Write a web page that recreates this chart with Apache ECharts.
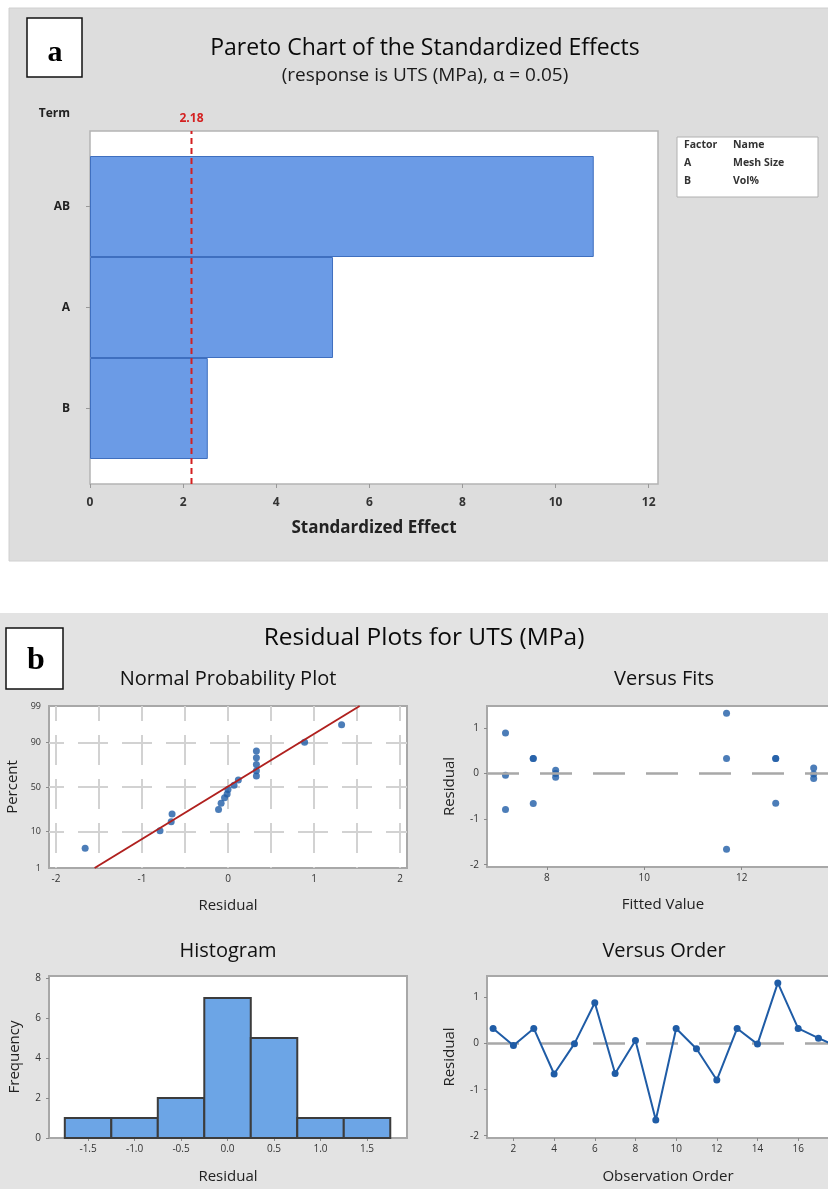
<!DOCTYPE html>
<html>
<head>
<meta charset="utf-8">
<script src="https://cdn.jsdelivr.net/npm/echarts@6/dist/echarts.min.js"></script>
<style>
html,body{margin:0;padding:0;background:#fff;}
#chart{width:828px;height:1189px;}
</style>
</head>
<body>
<div id="chart"></div>
<script>
// ---------- DATA ----------
// (a) Pareto chart
const paretoTerms = ['AB', 'A', 'B'];
const paretoEffects = [10.82, 5.22, 2.53];
const paretoCritical = 2.18;
const paretoTicks = [0, 2, 4, 6, 8, 10, 12];
const factorCodes = ['A', 'B'];
const factorNames = ['Mesh Size', 'Vol%'];

// (b) Residual plots
// normal probability plot: sorted residuals and their plotting percents
const npResiduals = [-1.66, -0.79, -0.66, -0.65, -0.11, -0.08, -0.04, -0.01, 0.00, 0.07, 0.12, 0.33, 0.33, 0.33, 0.33, 0.33, 0.89, 1.32];
const npPercents = [3.9, 10.5, 16, 22, 26, 32, 38, 42, 47, 52, 58, 62.5, 68, 74, 80, 85, 90.1, 96.3];
const npFitResidual = [-1.55, 1.53];
const npFitPercent = [1, 99];
const npPercentTicks = [1, 10, 50, 90, 99];
const npPercentGrid = [10, 50, 90];
const npResidualTicks = [-2, -1, 0, 1, 2];
const npResidualGrid = [-2, -1.5, -1, -0.5, 0, 0.5, 1, 1.5, 2];

// versus fits
const fitsFitted = [7.15, 7.15, 7.15, 7.72, 7.72, 7.72, 8.18, 8.18, 8.18, 11.69, 11.69, 11.69, 12.70, 12.70, 12.70, 13.48, 13.48, 13.48];
const fitsResidual = [0.89, -0.04, -0.79, 0.33, 0.33, -0.66, 0.07, 0.00, -0.08, 1.32, 0.33, -1.66, 0.33, 0.33, -0.65, 0.12, -0.01, -0.11];
const fitsTicks = [8, 10, 12, 14];
const residualTicks = [-2, -1, 0, 1];

// histogram
const histBinCenters = [-1.5, -1.0, -0.5, 0.0, 0.5, 1.0, 1.5];
const histCounts = [1, 1, 2, 7, 5, 1, 1];
const histBinWidth = 0.5;
const histFreqTicks = [0, 2, 4, 6, 8];

// versus order
const orderObs = [1, 2, 3, 4, 5, 6, 7, 8, 9, 10, 11, 12, 13, 14, 15, 16, 17, 18];
const orderResidual = [0.33, -0.04, 0.33, -0.66, 0.00, 0.89, -0.65, 0.07, -1.66, 0.33, -0.11, -0.79, 0.33, -0.01, 1.32, 0.33, 0.12, -0.08];
const orderTicks = [2, 4, 6, 8, 10, 12, 14, 16, 18];

// ---------- helpers ----------
function probit(p) {
  const a = [-3.969683028665376e+01, 2.209460984245205e+02, -2.759285104469687e+02, 1.383577518672690e+02, -3.066479806614716e+01, 2.506628277459239e+00];
  const b = [-5.447609879822406e+01, 1.615858368580409e+02, -1.556989798598866e+02, 6.680131188771972e+01, -1.328068155288572e+01];
  const c = [-7.784894002430293e-03, -3.223964580411365e-01, -2.400758277161838e+00, -2.549732539343734e+00, 4.374664141464968e+00, 2.938163982698783e+00];
  const d = [7.784695709041462e-03, 3.224671290700398e-01, 2.445134137142996e+00, 3.754408661907416e+00];
  const pl = 0.02425, ph = 1 - pl;
  let q, r;
  if (p < pl) {
    q = Math.sqrt(-2 * Math.log(p));
    return (((((c[0]*q+c[1])*q+c[2])*q+c[3])*q+c[4])*q+c[5]) / ((((d[0]*q+d[1])*q+d[2])*q+d[3])*q+1);
  }
  if (p <= ph) {
    q = p - 0.5; r = q * q;
    return (((((a[0]*r+a[1])*r+a[2])*r+a[3])*r+a[4])*r+a[5])*q / (((((b[0]*r+b[1])*r+b[2])*r+b[3])*r+b[4])*r+1);
  }
  q = Math.sqrt(-2 * Math.log(1 - p));
  return -(((((c[0]*q+c[1])*q+c[2])*q+c[3])*q+c[4])*q+c[5]) / ((((d[0]*q+d[1])*q+d[2])*q+d[3])*q+1);
}
const pz = pct => probit(pct / 100);
const npTickZ = npPercentTicks.map(pz);
const npGridZ = npPercentGrid.map(pz);

const FONT = 'Open Sans';
const TICKFONT = 'Open Sans';
const BLUE = '#1f5ca6';
const FRAME = '#a8a8a8';

function frameGrid(left, top, width, height) {
  return { left, top, width, height, show: true, backgroundColor: '#ffffff', borderColor: FRAME, borderWidth: 2,
    containLabel: false, outerBoundsMode: 'none' };
}
function valAxis(o) {
  return Object.assign({
    type: 'value',
    axisLine: { show: false, onZero: false },
    axisTick: { show: true, length: 3, lineStyle: { color: '#8a8a8a' } },
    splitLine: { show: false },
    axisLabel: { color: '#333', fontFamily: TICKFONT, fontSize: 10, margin: 6 },
    nameLocation: 'middle',
    nameTextStyle: { color: '#222', fontFamily: FONT, fontSize: 15 }
  }, o);
}

const chart = echarts.init(document.getElementById('chart'), null, { renderer: 'canvas' });

const option = {
  backgroundColor: '#ffffff',
  animation: false,
  title: [
    { text: 'Pareto Chart of the Standardized Effects', left: 420, top: 32, textAlign: 'center',
      textStyle: { fontFamily: FONT, fontSize: 23, fontWeight: 'normal', color: '#0a0a0a' },
      subtext: '(response is UTS (MPa), α = 0.05)', itemGap: 6,
      subtextStyle: { fontFamily: FONT, fontSize: 19, color: '#1a1a1a' } },
    { text: 'Residual Plots for UTS (MPa)', left: 419, top: 621, textAlign: 'center',
      textStyle: { fontFamily: FONT, fontSize: 24.5, fontWeight: 'normal', color: '#0a0a0a' } },
    { text: 'Normal Probability Plot', left: 223, top: 664, textAlign: 'center',
      textStyle: { fontFamily: FONT, fontSize: 20, fontWeight: 'normal', color: '#111' } },
    { text: 'Versus Fits', left: 659, top: 664, textAlign: 'center',
      textStyle: { fontFamily: FONT, fontSize: 20, fontWeight: 'normal', color: '#111' } },
    { text: 'Histogram', left: 223, top: 936, textAlign: 'center',
      textStyle: { fontFamily: FONT, fontSize: 20, fontWeight: 'normal', color: '#111' } },
    { text: 'Versus Order', left: 659, top: 936, textAlign: 'center',
      textStyle: { fontFamily: FONT, fontSize: 20, fontWeight: 'normal', color: '#111' } }
  ],
  graphic: [
    { type: 'rect', z: -10, silent: true, shape: { x: 9, y: 8, width: 830, height: 553 }, style: { fill: '#dddddd', stroke: '#d0d0d0', lineWidth: 1 } },
    { type: 'rect', z: -10, silent: true, shape: { x: 0, y: 613, width: 840, height: 590 }, style: { fill: '#e3e3e3' } },
    { type: 'rect', z: 5, silent: true, shape: { x: 27, y: 18, width: 55, height: 59 }, style: { fill: '#fff', stroke: '#111', lineWidth: 1.5 } },
    { type: 'text', z: 6, silent: true, x: 55, y: 53, style: { text: 'a', fontFamily: 'Liberation Serif', fontWeight: 'bold', fontSize: 30, fill: '#000', textAlign: 'center', textVerticalAlign: 'middle' } },
    { type: 'rect', z: 5, silent: true, shape: { x: 6, y: 628, width: 57, height: 61 }, style: { fill: '#fff', stroke: '#111', lineWidth: 1.5 } },
    { type: 'text', z: 6, silent: true, x: 36, y: 661, style: { text: 'b', fontFamily: 'Liberation Serif', fontWeight: 'bold', fontSize: 32, fill: '#000', textAlign: 'center', textVerticalAlign: 'middle' } },
    // factor table
    { type: 'group', z: 5, children: [
      { type: 'rect', silent: true, shape: { x: 677, y: 137, width: 141, height: 60 }, style: { fill: '#fff', stroke: '#b0b0b0', lineWidth: 1 } },
      { type: 'text', silent: true, x: 684, y: 145, style: { text: 'Factor', fontFamily: FONT, fontSize: 10.5, fontWeight: 'bold', fill: '#333', textVerticalAlign: 'middle' } },
      { type: 'text', silent: true, x: 733, y: 145, style: { text: 'Name', fontFamily: FONT, fontSize: 10.5, fontWeight: 'bold', fill: '#333', textVerticalAlign: 'middle' } },
      ...factorCodes.map((c, i) => ({ type: 'text', silent: true, x: 684, y: 163 + i * 18, style: { text: c, fontFamily: FONT, fontSize: 10.5, fontWeight: 'bold', fill: '#333', textVerticalAlign: 'middle' } })),
      ...factorNames.map((n, i) => ({ type: 'text', silent: true, x: 733, y: 163 + i * 18, style: { text: n, fontFamily: FONT, fontSize: 10.5, fontWeight: 'bold', fill: '#333', textVerticalAlign: 'middle' } }))
    ] }
  ],
  grid: [
    { left: 90, top: 131, width: 568, height: 353, show: true, backgroundColor: '#fff', borderColor: '#b4b4b4', borderWidth: 1.5, outerBoundsMode: 'none' }, // 0 pareto frame
    { left: 90, top: 156, width: 568, height: 303, show: false, outerBoundsMode: 'none' },   // 1 pareto bars
    frameGrid(49, 706, 358, 162),   // 2 normal probability
    frameGrid(487, 706, 352, 161),  // 3 versus fits
    frameGrid(49, 976, 358, 162),   // 4 histogram
    frameGrid(487, 976, 362, 162)   // 5 versus order
  ],
  xAxis: [
    valAxis({ gridIndex: 0, min: 0, max: 12.2,
      axisTick: { show: true, length: 4, lineStyle: { color: '#999' }, customValues: paretoTicks },
      axisLabel: { customValues: paretoTicks, color: '#333', fontFamily: FONT, fontSize: 12, fontWeight: 'bold', margin: 13 },
      name: 'Standardized Effect', nameGap: 36,
      nameTextStyle: { color: '#222', fontFamily: FONT, fontSize: 17, fontWeight: 'bold' } }),
    { gridIndex: 1, type: 'value', min: 0, max: 12.2, show: false },
    valAxis({ gridIndex: 2, min: -2.08, max: 2.08,
      axisTick: { show: false, customValues: npResidualGrid },
      axisLabel: { customValues: npResidualTicks, color: '#333', fontFamily: TICKFONT, fontSize: 10, margin: 6 },
      splitLine: { show: true, lineStyle: { color: '#d2d2d2', width: 2, type: [30, 14], dashOffset: 15 } },
      name: 'Residual', nameGap: 30 }),
    valAxis({ gridIndex: 3, min: 6.77, max: 14,
      axisTick: { show: true, length: 3, lineStyle: { color: '#8a8a8a' }, customValues: fitsTicks },
      axisLabel: { customValues: fitsTicks, color: '#333', fontFamily: TICKFONT, fontSize: 10, margin: 6 },
      name: 'Fitted Value', nameGap: 30 }),
    valAxis({ gridIndex: 4, min: -1.92, max: 1.93,
      axisTick: { show: true, length: 3, lineStyle: { color: '#8a8a8a' }, customValues: histBinCenters },
      axisLabel: { customValues: histBinCenters, color: '#333', fontFamily: TICKFONT, fontSize: 10, margin: 6, formatter: v => v.toFixed(1) },
      name: 'Residual', nameGap: 31 }),
    valAxis({ gridIndex: 5, min: 0.7, max: 18.5,
      axisTick: { show: true, length: 3, lineStyle: { color: '#8a8a8a' }, customValues: orderTicks },
      axisLabel: { customValues: orderTicks, color: '#333', fontFamily: TICKFONT, fontSize: 10, margin: 6 },
      name: 'Observation Order', nameGap: 31 })
  ],
  yAxis: [
    { gridIndex: 0, type: 'value', min: 0, max: 1, axisLine: { show: false }, axisTick: { show: false }, axisLabel: { show: false }, splitLine: { show: false },
      name: 'Term', nameLocation: 'end', nameGap: 11,
      nameTextStyle: { color: '#222', fontFamily: FONT, fontSize: 12, fontWeight: 'bold', align: 'right', padding: [0, 20, 0, 0] } },
    { gridIndex: 1, type: 'category', inverse: true, data: paretoTerms,
      axisLine: { show: false }, axisTick: { show: true, alignWithLabel: true, length: 4, lineStyle: { color: '#999' } },
      axisLabel: { color: '#222', fontFamily: FONT, fontSize: 12, fontWeight: 'bold', margin: 20 } },
    valAxis({ gridIndex: 2, min: npTickZ[0], max: npTickZ[npTickZ.length - 1],
      axisTick: { show: true, length: 3, lineStyle: { color: '#8a8a8a' }, customValues: npGridZ },
      axisLabel: { customValues: npTickZ, color: '#333', fontFamily: TICKFONT, fontSize: 9, margin: 8,
        formatter: v => { const i = npTickZ.findIndex(z => Math.abs(z - v) < 1e-6); return i >= 0 ? String(npPercentTicks[i]) : ''; } },
      splitLine: { show: true, lineStyle: { color: '#d2d2d2', width: 2, type: [30, 14], dashOffset: 15 } },
      name: 'Percent', nameGap: 29 }),
    valAxis({ gridIndex: 3, min: -2.05, max: 1.48,
      axisTick: { show: true, length: 3, lineStyle: { color: '#8a8a8a' }, customValues: residualTicks },
      axisLabel: { customValues: residualTicks, color: '#333', fontFamily: TICKFONT, fontSize: 10, margin: 8 },
      name: 'Residual', nameGap: 30 }),
    valAxis({ gridIndex: 4, min: 0, max: 8.1,
      axisTick: { show: true, length: 3, lineStyle: { color: '#8a8a8a' }, customValues: histFreqTicks },
      axisLabel: { customValues: histFreqTicks, color: '#333', fontFamily: TICKFONT, fontSize: 10, margin: 8 },
      name: 'Frequency', nameGap: 27 }),
    valAxis({ gridIndex: 5, min: -2.05, max: 1.47,
      axisTick: { show: true, length: 3, lineStyle: { color: '#8a8a8a' }, customValues: residualTicks },
      axisLabel: { customValues: residualTicks, color: '#333', fontFamily: TICKFONT, fontSize: 10, margin: 8 },
      name: 'Residual', nameGap: 30 })
  ],
  series: [
    // critical value line (behind bars)
    { type: 'line', xAxisIndex: 0, yAxisIndex: 0, symbol: 'none', silent: true,
      data: [[paretoCritical, 0], [paretoCritical, 1]],
      lineStyle: { color: '#d42020', width: 2, type: [6, 4] },
      markPoint: { symbol: 'circle', symbolSize: 0, silent: true,
        data: [{ coord: [paretoCritical, 1], value: paretoCritical }],
        label: { show: true, position: 'top', distance: 6, formatter: p => p.value.toFixed(2), color: '#d42020', fontFamily: FONT, fontSize: 12, fontWeight: 'bold' } } },
    { type: 'bar', xAxisIndex: 1, yAxisIndex: 1, data: paretoEffects, barCategoryGap: '0%',
      itemStyle: { color: '#6b9be6', borderColor: '#3f6fbf', borderWidth: 1 } },
    // normal probability
    { type: 'line', xAxisIndex: 2, yAxisIndex: 2, symbol: 'none', silent: true,
      data: npFitResidual.map((r, i) => [r, pz(npFitPercent[i])]),
      lineStyle: { color: '#b0201e', width: 2 } },
    { type: 'scatter', xAxisIndex: 2, yAxisIndex: 2, symbol: 'circle', symbolSize: 7,
      data: npResiduals.map((r, i) => [r, pz(npPercents[i])]),
      itemStyle: { color: BLUE } },
    // versus fits
    { type: 'scatter', xAxisIndex: 3, yAxisIndex: 3, symbol: 'circle', symbolSize: 7,
      data: fitsFitted.map((f, i) => [f, fitsResidual[i]]),
      itemStyle: { color: BLUE },
      markLine: { silent: true, symbol: 'none', label: { show: false }, data: [{ yAxis: 0 }],
        lineStyle: { color: '#a8a8a8', width: 2.5, type: [32, 21] } } },
    // histogram
    { type: 'custom', xAxisIndex: 4, yAxisIndex: 4,
      data: histBinCenters.map((c, i) => [c - histBinWidth / 2, c + histBinWidth / 2, histCounts[i]]),
      encode: { x: [0, 1], y: 2 },
      renderItem: (params, api) => {
        const p0 = api.coord([api.value(0), api.value(2)]);
        const p1 = api.coord([api.value(1), 0]);
        return { type: 'rect', shape: { x: p0[0], y: p0[1], width: p1[0] - p0[0], height: p1[1] - p0[1] },
          style: { fill: '#6ca5e6', stroke: '#3c3c3c', lineWidth: 2 } };
      } },
    // versus order
    { type: 'line', xAxisIndex: 5, yAxisIndex: 5, symbol: 'circle', symbolSize: 7,
      data: orderObs.map((o, i) => [o, orderResidual[i]]),
      lineStyle: { color: BLUE, width: 2 }, itemStyle: { color: BLUE },
      markLine: { silent: true, symbol: 'none', label: { show: false }, data: [{ yAxis: 0 }], z: 1,
        lineStyle: { color: '#a8a8a8', width: 2.5, type: [32, 21] } } }
  ]
};
chart.setOption(option);
</script>
</body>
</html>
